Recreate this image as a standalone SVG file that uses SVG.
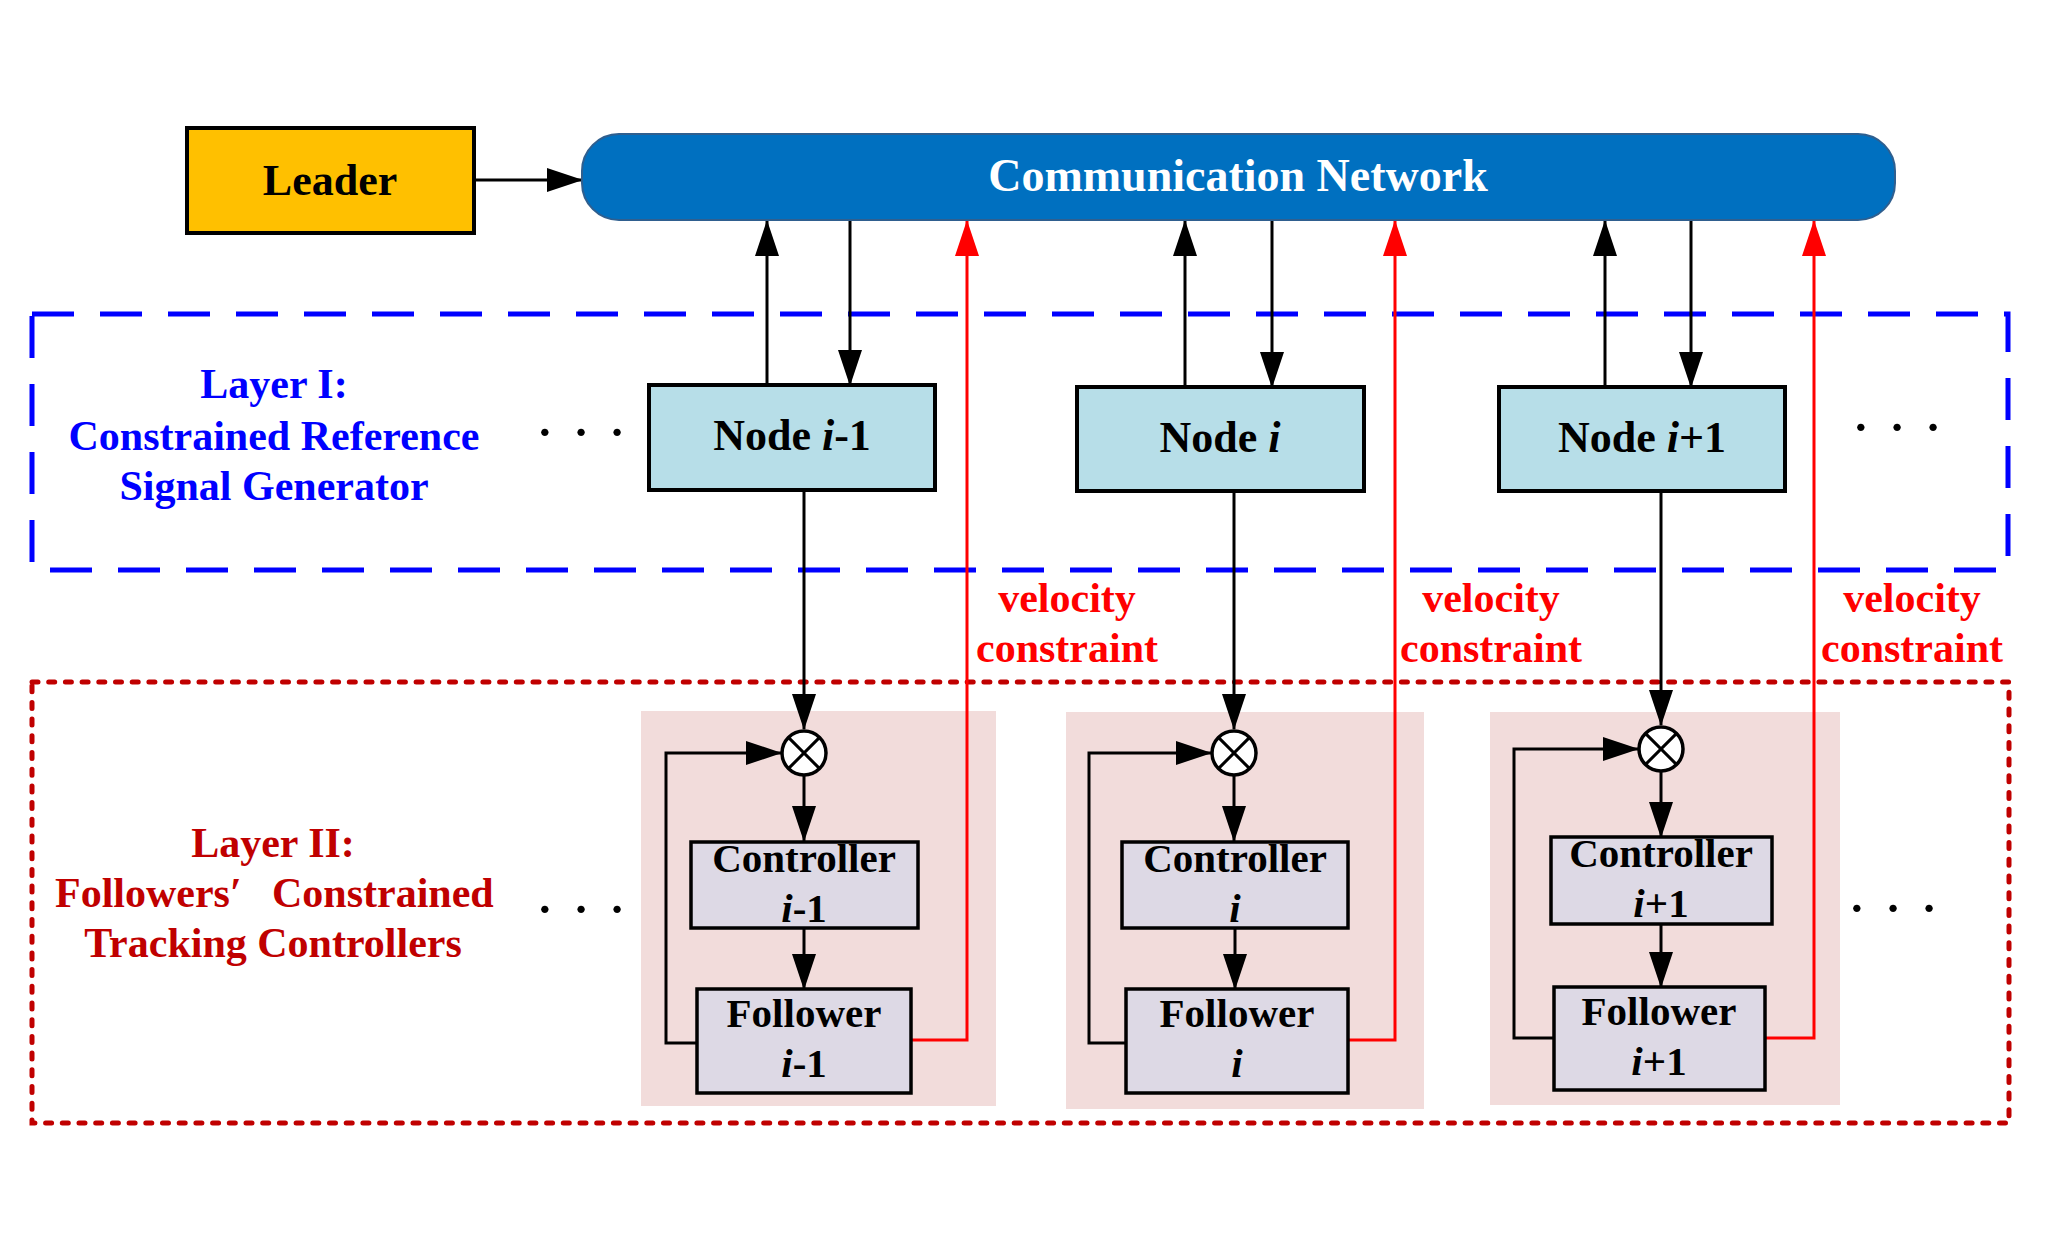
<svg xmlns="http://www.w3.org/2000/svg" width="2055" height="1251" viewBox="0 0 2055 1251">
<defs>
<style>
text{font-family:"Liberation Serif","Times New Roman",serif;font-weight:bold;text-anchor:middle}
.blk{fill:#000}
.lbl{font-size:44px}
.sm{font-size:41px}
.lay1{font-size:42px;fill:#0000FF}
.lay2{font-size:42px;fill:#C00000}
.vel{font-size:42px;fill:#FF0000}
.dots{font-size:62px;font-weight:normal;fill:#000}
.it{font-style:italic}
.ln{fill:none;stroke:#000;stroke-width:3}
.rl{fill:none;stroke:#FF0000;stroke-width:3}
.node{fill:#B7DEE8;stroke:#000;stroke-width:4}
.box{fill:#DDD9E5;stroke:#000;stroke-width:3.5}
.pink{fill:#F2DCDB}
.sum{fill:#fff;stroke:#000;stroke-width:3.5}
</style>
<marker id="ah" markerWidth="36" markerHeight="24" refX="35" refY="12" orient="auto" markerUnits="userSpaceOnUse"><path d="M0,0 L36,12 L0,24 z" fill="#000"/></marker>
<marker id="ahr" markerWidth="36" markerHeight="24" refX="35" refY="12" orient="auto" markerUnits="userSpaceOnUse"><path d="M0,0 L36,12 L0,24 z" fill="#FF0000"/></marker>
</defs>
<rect width="2055" height="1251" fill="#fff"/>

<g id="layer1-box">
<rect x="32" y="314" width="1976" height="256" fill="none" stroke="#0000FF" stroke-width="5" stroke-dasharray="42 26"/>
<text class="lay1" x="274" y="398">Layer I:</text>
<text class="lay1" x="274" y="450">Constrained Reference</text>
<text class="lay1" x="274" y="500">Signal Generator</text>
<text class="dots" x="581" y="453">· · ·</text>
<text class="dots" x="1897" y="448">· · ·</text>
</g>

<g id="layer2-box">
<rect x="32" y="682" width="1977" height="441" fill="none" stroke="#C00000" stroke-width="5" stroke-dasharray="6 10.7" stroke-linecap="round"/>
<text class="lay2" x="273" y="857">Layer II:</text>
<text class="lay2" x="55" y="907" style="text-anchor:start">Followers′ <tspan x="272">Constrained</tspan></text>
<text class="lay2" x="273" y="957">Tracking Controllers</text>
<text class="dots" x="581" y="930">· · ·</text>
<text class="dots" x="1893" y="929">· · ·</text>
</g>

<g id="group-bg">
<rect class="pink" x="641" y="711" width="355" height="395"/>
<rect class="pink" x="1066" y="712" width="358" height="397"/>
<rect class="pink" x="1490" y="712" width="350" height="393"/>
</g>

<g id="connectors">
<line class="ln" x1="475" y1="180" x2="582" y2="180" marker-end="url(#ah)"/>
<line class="ln" x1="767" y1="385" x2="767" y2="221" marker-end="url(#ah)"/>
<line class="ln" x1="850" y1="220" x2="850" y2="385" marker-end="url(#ah)"/>
<line class="ln" x1="1185" y1="387" x2="1185" y2="221" marker-end="url(#ah)"/>
<line class="ln" x1="1272" y1="220" x2="1272" y2="387" marker-end="url(#ah)"/>
<line class="ln" x1="1605" y1="387" x2="1605" y2="221" marker-end="url(#ah)"/>
<line class="ln" x1="1691" y1="220" x2="1691" y2="387" marker-end="url(#ah)"/>

<polyline class="rl" points="911,1040 967,1040 967,221" marker-end="url(#ahr)"/>
<polyline class="rl" points="1348,1040 1395,1040 1395,221" marker-end="url(#ahr)"/>
<polyline class="rl" points="1765,1038 1814,1038 1814,221" marker-end="url(#ahr)"/>

<line class="ln" x1="804" y1="490" x2="804" y2="729" marker-end="url(#ah)"/>
<line class="ln" x1="1234" y1="491" x2="1234" y2="729" marker-end="url(#ah)"/>
<line class="ln" x1="1661" y1="491" x2="1661" y2="725" marker-end="url(#ah)"/>

<line class="ln" x1="804" y1="776" x2="804" y2="841" marker-end="url(#ah)"/>
<line class="ln" x1="1234" y1="776" x2="1234" y2="841" marker-end="url(#ah)"/>
<line class="ln" x1="1661" y1="772" x2="1661" y2="837" marker-end="url(#ah)"/>

<line class="ln" x1="804" y1="928" x2="804" y2="989" marker-end="url(#ah)"/>
<line class="ln" x1="1235" y1="928" x2="1235" y2="989" marker-end="url(#ah)"/>
<line class="ln" x1="1661" y1="924" x2="1661" y2="987" marker-end="url(#ah)"/>

<polyline class="ln" points="697,1043 666,1043 666,753 781,753" marker-end="url(#ah)"/>
<polyline class="ln" points="1126,1043 1089,1043 1089,753 1211,753" marker-end="url(#ah)"/>
<polyline class="ln" points="1554,1038 1514,1038 1514,749 1638,749" marker-end="url(#ah)"/>
</g>

<g id="leader">
<rect x="187" y="128" width="287" height="105" fill="#FFC000" stroke="#000" stroke-width="4"/>
<text class="lbl blk" x="330" y="195">Leader</text>
</g>

<g id="network">
<rect x="582" y="134" width="1313" height="86" rx="37" ry="37" fill="#0070C0" stroke="#2F5F8F" stroke-width="2"/>
<text x="1238" y="191" style="font-size:46px;fill:#fff">Communication Network</text>
</g>

<g id="node-im1">
<rect class="node" x="649" y="385" width="286" height="105"/>
<text class="lbl blk" x="792" y="450">Node <tspan class="it">i</tspan>-1</text>
</g>
<g id="node-i">
<rect class="node" x="1077" y="387" width="287" height="104"/>
<text class="lbl blk" x="1220" y="452">Node <tspan class="it">i</tspan></text>
</g>
<g id="node-ip1">
<rect class="node" x="1499" y="387" width="286" height="104"/>
<text class="lbl blk" x="1642" y="452">Node <tspan class="it">i</tspan>+1</text>
</g>

<g id="sum-im1">
<circle class="sum" cx="804" cy="753" r="22"/>
<path d="M788.4,737.4 L819.6,768.6 M819.6,737.4 L788.4,768.6" stroke="#000" stroke-width="3"/>
</g>
<g id="sum-i">
<circle class="sum" cx="1234" cy="753" r="22"/>
<path d="M1218.4,737.4 L1249.6,768.6 M1249.6,737.4 L1218.4,768.6" stroke="#000" stroke-width="3"/>
</g>
<g id="sum-ip1">
<circle class="sum" cx="1661" cy="749" r="22"/>
<path d="M1645.4,733.4 L1676.6,764.6 M1676.6,733.4 L1645.4,764.6" stroke="#000" stroke-width="3"/>
</g>

<g id="controller-im1">
<rect class="box" x="691" y="842" width="227" height="86"/>
<text class="sm blk" x="804" y="872">Controller</text>
<text class="sm blk" x="804" y="922"><tspan class="it">i</tspan>-1</text>
</g>
<g id="controller-i">
<rect class="box" x="1122" y="842" width="226" height="86"/>
<text class="sm blk" x="1235" y="872">Controller</text>
<text class="sm blk" x="1235" y="922"><tspan class="it">i</tspan></text>
</g>
<g id="controller-ip1">
<rect class="box" x="1551" y="837" width="221" height="87"/>
<text class="sm blk" x="1661" y="867">Controller</text>
<text class="sm blk" x="1661" y="917"><tspan class="it">i</tspan>+1</text>
</g>

<g id="follower-im1">
<rect class="box" x="697" y="989" width="214" height="104"/>
<text class="sm blk" x="804" y="1027">Follower</text>
<text class="sm blk" x="804" y="1077"><tspan class="it">i</tspan>-1</text>
</g>
<g id="follower-i">
<rect class="box" x="1126" y="989" width="222" height="104"/>
<text class="sm blk" x="1237" y="1027">Follower</text>
<text class="sm blk" x="1237" y="1077"><tspan class="it">i</tspan></text>
</g>
<g id="follower-ip1">
<rect class="box" x="1554" y="987" width="211" height="103"/>
<text class="sm blk" x="1659" y="1025">Follower</text>
<text class="sm blk" x="1659" y="1075"><tspan class="it">i</tspan>+1</text>
</g>

<g id="velocity-labels">
<text class="vel" x="1067" y="612">velocity</text>
<text class="vel" x="1067" y="662">constraint</text>
<text class="vel" x="1491" y="612">velocity</text>
<text class="vel" x="1491" y="662">constraint</text>
<text class="vel" x="1912" y="612">velocity</text>
<text class="vel" x="1912" y="662">constraint</text>
</g>
</svg>
